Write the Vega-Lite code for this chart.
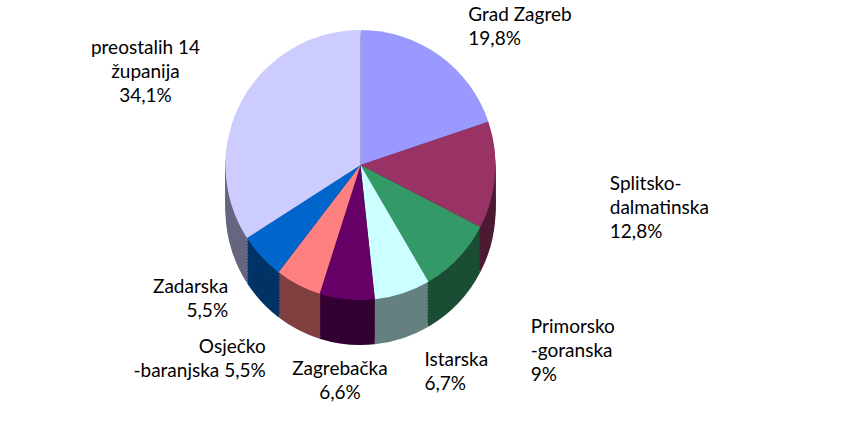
{
  "$schema": "https://vega.github.io/schema/vega-lite/v6.json",
  "width": 841,
  "height": 439,
  "autosize": {"type": "fit", "contains": "padding"},
  "padding": {"left": 0, "right": 120, "top": 0, "bottom": 69},
  "data": {
    "values": [
      {"name": "Grad Zagreb", "value": 19.8, "label": "Grad Zagreb\n19,8%", "order": 1},
      {"name": "Splitsko-dalmatinska", "value": 12.8, "label": "Splitsko-\ndalmatinska\n12,8%", "order": 2},
      {"name": "Primorsko-goranska", "value": 9.0, "label": "Primorsko\n-goranska\n9%", "order": 3},
      {"name": "Istarska", "value": 6.7, "label": "Istarska\n6,7%", "order": 4},
      {"name": "Zagrebačka", "value": 6.6, "label": "Zagrebačka\n6,6%", "order": 5},
      {"name": "Osječko-baranjska", "value": 5.5, "label": "Osječko\n-baranjska 5,5%", "order": 6},
      {"name": "Zadarska", "value": 5.5, "label": "Zadarska\n5,5%", "order": 7},
      {"name": "preostalih 14 županija", "value": 34.1, "label": "preostalih 14\nžupanija\n34,1%", "order": 8}
    ]
  },
  "encoding": {
    "theta": {"field": "value", "type": "quantitative", "stack": true},
    "order": {"field": "order", "type": "quantitative"}
  },
  "layer": [
    {"mark": {"type": "arc", "outerRadius": 135, "yOffset": 45}, "encoding": {"fill": {"field": "name", "type": "nominal", "legend": null, "scale": {"domain": ["Grad Zagreb", "Splitsko-dalmatinska", "Primorsko-goranska", "Istarska", "Zagrebačka", "Osječko-baranjska", "Zadarska", "preostalih 14 županija"], "range": ["#4D4D80", "#4D1A33", "#1A4D33", "#668080", "#330033", "#804040", "#003366", "#666680"]}}}},
    {"mark": {"type": "arc", "outerRadius": 135, "yOffset": 42}, "encoding": {"fill": {"field": "name", "type": "nominal", "legend": null}}},
    {"mark": {"type": "arc", "outerRadius": 135, "yOffset": 39}, "encoding": {"fill": {"field": "name", "type": "nominal", "legend": null}}},
    {"mark": {"type": "arc", "outerRadius": 135, "yOffset": 36}, "encoding": {"fill": {"field": "name", "type": "nominal", "legend": null}}},
    {"mark": {"type": "arc", "outerRadius": 135, "yOffset": 33}, "encoding": {"fill": {"field": "name", "type": "nominal", "legend": null}}},
    {"mark": {"type": "arc", "outerRadius": 135, "yOffset": 30}, "encoding": {"fill": {"field": "name", "type": "nominal", "legend": null}}},
    {"mark": {"type": "arc", "outerRadius": 135, "yOffset": 27}, "encoding": {"fill": {"field": "name", "type": "nominal", "legend": null}}},
    {"mark": {"type": "arc", "outerRadius": 135, "yOffset": 24}, "encoding": {"fill": {"field": "name", "type": "nominal", "legend": null}}},
    {"mark": {"type": "arc", "outerRadius": 135, "yOffset": 21}, "encoding": {"fill": {"field": "name", "type": "nominal", "legend": null}}},
    {"mark": {"type": "arc", "outerRadius": 135, "yOffset": 18}, "encoding": {"fill": {"field": "name", "type": "nominal", "legend": null}}},
    {"mark": {"type": "arc", "outerRadius": 135, "yOffset": 15}, "encoding": {"fill": {"field": "name", "type": "nominal", "legend": null}}},
    {"mark": {"type": "arc", "outerRadius": 135, "yOffset": 12}, "encoding": {"fill": {"field": "name", "type": "nominal", "legend": null}}},
    {"mark": {"type": "arc", "outerRadius": 135, "yOffset": 9}, "encoding": {"fill": {"field": "name", "type": "nominal", "legend": null}}},
    {"mark": {"type": "arc", "outerRadius": 135, "yOffset": 6}, "encoding": {"fill": {"field": "name", "type": "nominal", "legend": null}}},
    {"mark": {"type": "arc", "outerRadius": 135, "yOffset": 3}, "encoding": {"fill": {"field": "name", "type": "nominal", "legend": null}}},
    {"mark": {"type": "arc", "outerRadius": 135}, "encoding": {"color": {"field": "name", "type": "nominal", "legend": null, "scale": {"domain": ["Grad Zagreb", "Splitsko-dalmatinska", "Primorsko-goranska", "Istarska", "Zagrebačka", "Osječko-baranjska", "Zadarska", "preostalih 14 županija"], "range": ["#9999FF", "#993366", "#339966", "#CCFFFF", "#660066", "#FF8080", "#0066CC", "#CCCCFF"]}}}},
    {"mark": {"type": "text", "radius": 185, "align": "left", "baseline": "middle", "lineBreak": "\n", "lineHeight": 24, "font": "Lato", "fontSize": 19, "color": "#000000"},
     "encoding": {"text": {"condition": {"test": "datum.order == 1", "field": "label"}, "value": ""}}},
    {"mark": {"type": "text", "radius": 250, "align": "left", "baseline": "middle", "lineBreak": "\n", "lineHeight": 24, "font": "Lato", "fontSize": 19, "color": "#000000"},
     "encoding": {"text": {"condition": {"test": "datum.order == 2", "field": "label"}, "value": ""}}},
    {"mark": {"type": "text", "radius": 235, "align": "left", "baseline": "middle", "lineBreak": "\n", "lineHeight": 24, "font": "Lato", "fontSize": 19, "color": "#000000"},
     "encoding": {"text": {"condition": {"test": "datum.order == 3", "field": "label"}, "value": ""}}},
    {"mark": {"type": "text", "radius": 205, "align": "left", "baseline": "middle", "lineBreak": "\n", "lineHeight": 24, "font": "Lato", "fontSize": 19, "color": "#000000"},
     "encoding": {"text": {"condition": {"test": "datum.order == 4", "field": "label"}, "value": ""}}},
    {"mark": {"type": "text", "radius": 205, "align": "center", "baseline": "middle", "lineBreak": "\n", "lineHeight": 24, "font": "Lato", "fontSize": 19, "color": "#000000"},
     "encoding": {"text": {"condition": {"test": "datum.order == 5", "field": "label"}, "value": ""}}},
    {"mark": {"type": "text", "radius": 205, "align": "right", "baseline": "middle", "lineBreak": "\n", "lineHeight": 24, "font": "Lato", "fontSize": 19, "color": "#000000"},
     "encoding": {"text": {"condition": {"test": "datum.order == 6", "field": "label"}, "value": ""}}},
    {"mark": {"type": "text", "radius": 180, "align": "right", "baseline": "middle", "lineBreak": "\n", "lineHeight": 24, "font": "Lato", "fontSize": 19, "color": "#000000"},
     "encoding": {"text": {"condition": {"test": "datum.order == 7", "field": "label"}, "value": ""}}},
    {"mark": {"type": "text", "radius": 245, "align": "center", "baseline": "middle", "lineBreak": "\n", "lineHeight": 24, "font": "Lato", "fontSize": 19, "color": "#000000"},
     "encoding": {"text": {"condition": {"test": "datum.order == 8", "field": "label"}, "value": ""}}}
  ],
  "config": {"view": {"stroke": null}}
}
